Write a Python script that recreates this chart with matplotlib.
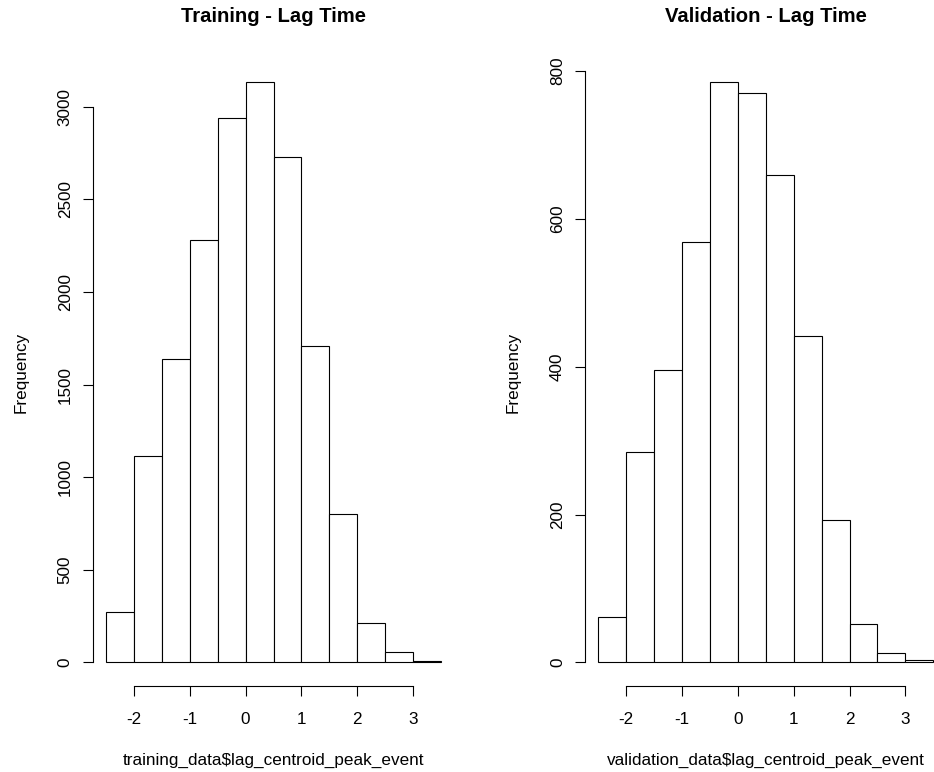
import matplotlib
matplotlib.use("Agg")
import matplotlib.pyplot as plt

plt.rcParams["font.family"] = ["Liberation Sans", "DejaVu Sans"]

# Histogram bins shared by both panels
bin_edges = [-2.5, -2.0, -1.5, -1.0, -0.5, 0.0, 0.5, 1.0, 1.5, 2.0, 2.5, 3.0, 3.5]

# Counts per bin
train_counts = [270, 1113, 1639, 2280, 2942, 3133, 2730, 1710, 800, 214, 57, 9]
valid_counts = [61, 284, 396, 569, 785, 771, 660, 442, 193, 52, 12, 3]

# Axis ticks
x_ticks = [-2, -1, 0, 1, 2, 3]
train_yticks = [0, 500, 1000, 1500, 2000, 2500, 3000]
valid_yticks = [0, 200, 400, 600, 800]

titles = ["Training - Lag Time", "Validation - Lag Time"]
xlabels = ["training_data$lag_centroid_peak_event",
           "validation_data$lag_centroid_peak_event"]

W, H = 934, 772
fig = plt.figure(figsize=(W / 100, H / 100), dpi=100)

LW = 0.8
TICK_FS = 12.3
TITLE_FS = 14.6
TOP_PX, BOTTOM_PX, WIDTH_PX = 59.0, 685.5, 361.6


def panel(left_px, counts, yticks, title, xlabel):
    ax = fig.add_axes([left_px / W, (H - BOTTOM_PX) / H,
                       WIDTH_PX / W, (BOTTOM_PX - TOP_PX) / H])
    widths = [b - a for a, b in zip(bin_edges[:-1], bin_edges[1:])]
    ax.bar(bin_edges[:-1], counts, width=widths, align="edge",
           facecolor="white", edgecolor="black", linewidth=LW)

    # 4% padding around the data range on both axes
    x0, x1 = bin_edges[0], bin_edges[-1]
    pad_x = 0.04 * (x1 - x0)
    ax.set_xlim(x0 - pad_x, x1 + pad_x)
    ymax = max(counts)
    pad_y = 0.04 * ymax
    ax.set_ylim(-pad_y, ymax + pad_y)

    for s in ("top", "right"):
        ax.spines[s].set_visible(False)
    for s in ("left", "bottom"):
        ax.spines[s].set_linewidth(LW)
        ax.spines[s].set_color("black")
    ax.spines["left"].set_bounds(yticks[0], yticks[-1])
    ax.spines["bottom"].set_bounds(x_ticks[0], x_ticks[-1])

    ax.set_xticks(x_ticks)
    ax.set_xticklabels([str(t) for t in x_ticks])
    ax.set_yticks(yticks)
    ax.set_yticklabels([str(t) for t in yticks], rotation=90, va="center")
    ax.tick_params(axis="both", length=7.4, width=LW, color="black",
                   labelsize=TICK_FS, direction="out")
    ax.tick_params(axis="x", pad=12.0)
    ax.tick_params(axis="y", pad=7.0)

    title_y = 1.0 + (TOP_PX - 16.0) / (BOTTOM_PX - TOP_PX)
    ax.set_title(title, fontsize=TITLE_FS, fontweight="bold",
                 y=title_y, va="center", pad=0)
    ax.set_xlabel(xlabel, fontsize=TICK_FS, labelpad=18.5)
    ax.set_ylabel("Frequency", fontsize=TICK_FS, labelpad=21)
    return ax


ax1 = panel(92.7, train_counts, train_yticks, titles[0], xlabels[0])
ax2 = panel(585.0, valid_counts, valid_yticks, titles[1], xlabels[1])

fig.savefig("out.png", dpi=100, facecolor="white")
